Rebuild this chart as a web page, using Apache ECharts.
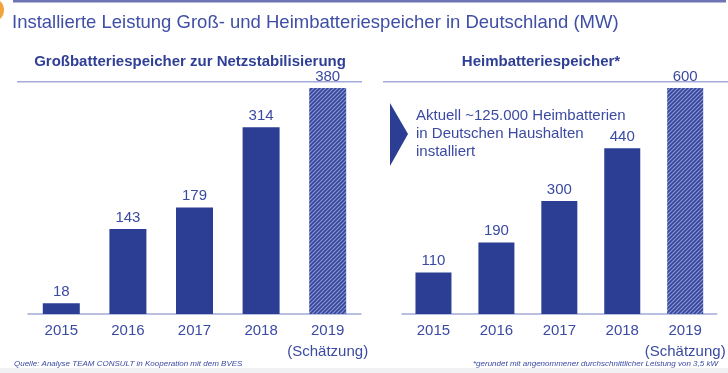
<!DOCTYPE html>
<html><head><meta charset="utf-8">
<script src="https://cdn.jsdelivr.net/npm/echarts@6/dist/echarts.min.js"></script>
<style>html,body{margin:0;padding:0;background:#fff}#c{width:728px;height:373px}</style>
</head><body><div id="c"></div>
<script>
const categories = ['2015','2016','2017','2018','2019'];
const categoryLabels = ['2015','2016','2017','2018','2019\n(Schätzung)'];
const grossValues = [18, 143, 179, 314, 380];
const heimValues = [110, 190, 300, 440, 600];
const estimateIndex = 4;

const BAR = '#2c3e94';
const TXT = '#3b4aa2';

function hatch(){
  const c = document.createElement('canvas');
  c.width = 4; c.height = 4;
  const g = c.getContext('2d');
  g.fillStyle = '#8e97d0'; g.fillRect(0,0,4,4);
  g.strokeStyle = '#31439a'; g.lineWidth = 1.6;
  g.beginPath();
  g.moveTo(-1,5); g.lineTo(5,-1);
  g.moveTo(-1,1); g.lineTo(1,-1);
  g.moveTo(3,5); g.lineTo(5,3);
  g.stroke();
  return c;
}
const pattern = {image: hatch(), repeat: 'repeat'};

function mk(vals){
  return vals.map((v,i)=> i===estimateIndex ? {value:v, itemStyle:{color:pattern}} : v);
}

const chart = echarts.init(document.getElementById('c'));
const axisCommon = {
  type:'category', data: categoryLabels,
  axisLine:{lineStyle:{color:'#a3aad8', width:1.5}},
  axisTick:{show:false},
  axisLabel:{interval:0, color:TXT, fontSize:15, margin:6, lineHeight:21, fontFamily:'Liberation Sans, Arial'}
};
const labelCommon = {show:true, position:'top', distance:4, color:TXT, fontSize:15, fontFamily:'Liberation Sans, Arial'};

chart.setOption({
  animation:false,
  grid:[
    {left:28, width:333, top:88, bottom:59},
    {left:402, width:321, top:88, bottom:59}
  ],
  xAxis:[Object.assign({gridIndex:0}, axisCommon), Object.assign({gridIndex:1}, axisCommon)],
  yAxis:[
    {gridIndex:0, type:'value', min:0, max:380, show:false},
    {gridIndex:1, type:'value', min:0, max:600, show:false}
  ],
  series:[
    {type:'bar', xAxisIndex:0, yAxisIndex:0, data:mk(grossValues), barWidth:37, itemStyle:{color:BAR}, label:labelCommon},
    {type:'bar', xAxisIndex:1, yAxisIndex:1, data:mk(heimValues), barWidth:36, itemStyle:{color:BAR}, label:labelCommon}
  ],
  graphic:[
    {type:'rect', shape:{x:13,y:0,width:713,height:2.5}, style:{fill:'#6e75b4'}},
    {type:'circle', shape:{cx:-8,cy:10,r:12}, style:{fill:'#f2a33a'}},
    {type:'rect', shape:{x:0,y:368,width:728,height:5}, style:{fill:'#f1f1f3'}},
    {type:'text', x:12, y:23, style:{text:'Installierte Leistung Groß- und Heimbatteriespeicher in Deutschland (MW)', fill:'#3f4ea6', font:'18.5px "Liberation Sans", Arial', verticalAlign:'middle'}},
    {type:'text', x:190, y:62, style:{text:'Großbatteriespeicher zur Netzstabilisierung', fill:'#2f3f96', font:'bold 15px "Liberation Sans", Arial', align:'center', verticalAlign:'middle'}},
    {type:'text', x:541, y:62, style:{text:'Heimbatteriespeicher*', fill:'#2f3f96', font:'bold 15px "Liberation Sans", Arial', align:'center', verticalAlign:'middle'}},
    {type:'rect', shape:{x:17,y:81,width:345,height:1.5}, style:{fill:'#a3aad8'}},
    {type:'rect', shape:{x:383,y:81,width:345,height:1.5}, style:{fill:'#a3aad8'}},
    {type:'polygon', shape:{points:[[390,103],[390,166],[408,134]]}, style:{fill:'#2c3e94'}},
    {type:'text', x:416, y:107, style:{text:'Aktuell ~125.000 Heimbatterien\nin Deutschen Haushalten\ninstalliert', fill:TXT, font:'15px "Liberation Sans", Arial', lineHeight:18}},
    {type:'text', x:14, y:364, style:{text:'Quelle: Analyse TEAM CONSULT in Kooperation mit dem BVES', fill:'#3b4aa2', font:'italic 8px "Liberation Sans", Arial', verticalAlign:'middle'}},
    {type:'text', x:718, y:364, style:{text:'*gerundet mit angenommener durchschnittlicher Leistung von 3,5 kW', fill:'#3b4aa2', font:'italic 8px "Liberation Sans", Arial', align:'right', verticalAlign:'middle'}}
  ]
});
</script></body></html>
